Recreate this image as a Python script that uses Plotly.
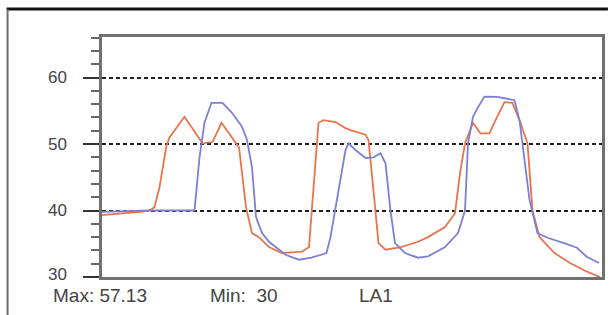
import plotly.graph_objects as go

# Orange series (time index 0..100, level)
orange_x = [0, 3.6, 7.6, 9.5, 10.5, 11.5, 12.9, 13.5, 16.5, 20.1, 22.1, 23.9, 26, 27.4, 28.8, 30, 31.4,
            33.4, 36, 40, 41.4, 42.3, 43.3, 44.3, 46.7, 48.7, 49.7, 52.7, 53.3, 54.3, 55.3, 56.7, 59.8,
            63.2, 65.2, 68.6, 70.6, 71.6, 72.6, 74.2, 75.7, 77.5, 78.7, 80.5, 82.1, 83.7, 85.1, 86.1,
            87.5, 90.5, 93.6, 97, 99.6]
orange_y = [39.3, 39.5, 39.8, 40.0, 40.5, 43.5, 49.8, 51.0, 54.1, 50.1, 50.3, 53.2, 51.0, 49.5, 40.5, 36.6, 36.0,
            34.5, 33.6, 33.8, 34.5, 43.0, 53.2, 53.6, 53.3, 52.4, 52.1, 51.4, 50.6, 43.0, 35.1, 34.1, 34.5,
            35.3, 36.0, 37.5, 39.6, 45.6, 50.1, 53.2, 51.6, 51.6, 53.6, 56.3, 56.2, 53.2, 50.1, 40.0,
            36.0, 33.6, 32.1, 30.8, 30.0]

# Blue series
blue_x = [0, 9.5, 18.5, 19.5, 20.5, 21.9, 24.1, 26, 28, 29, 30, 30.8, 32, 33.4, 36.8, 39.4, 41.9, 44.9,
          45.7, 47.3, 48.7, 49.3, 50.7, 52.7, 54.3, 55.7, 56.7, 57.7, 58.6, 60.6, 63.2, 65.2, 68.6, 71.2,
          72.6, 73.2, 74.2, 75.1, 76.5, 79.1, 80.7, 82.5, 83.5, 84.5, 85.5, 87.1, 89.1, 92.4, 95, 97, 99.4]
blue_y = [39.8, 40.0, 40.0, 48.0, 53.2, 56.2, 56.2, 54.7, 52.6, 50.6, 46.5, 39.0, 36.6, 35.3, 33.3, 32.6, 32.9, 33.6,
          36.0, 43.0, 49.1, 50.1, 49.1, 47.9, 48.0, 48.6, 47.1, 40.0, 35.1, 33.6, 32.9, 33.1, 34.5, 36.6,
          40.0, 50.1, 54.1, 55.4, 57.13, 57.1, 56.9, 56.6, 53.6, 48.0, 41.6, 36.6, 35.9, 35.1, 34.4, 33.0, 32.1]

y_ticks = [30, 40, 50, 60]
y_tick_labels = ["30", "40", "50", "60"]
footer_texts = ["Max: 57.13", "Min:  30", "LA1"]

fig = go.Figure()
fig.add_trace(go.Scatter(x=orange_x, y=orange_y, mode="lines",
                         line=dict(color="#E8744E", width=1.8), showlegend=False))
fig.add_trace(go.Scatter(x=blue_x, y=blue_y, mode="lines",
                         line=dict(color="#7C80D2", width=1.8), showlegend=False))

L, R, T, B = 102, 6, 37, 38
W, H = 611, 315
pw, ph = W - L - R, H - T - B

def px2x(px):
    return (px - L) / pw

def py2y(py):
    return ((H - B) - py) / ph

fig.update_layout(
    width=W, height=H,
    margin=dict(l=L, r=R, t=T, b=B, pad=0),
    paper_bgcolor="white", plot_bgcolor="white",
    font=dict(family="Liberation Sans, Arial, sans-serif", color="#444444"),
    xaxis=dict(range=[0, 100], showgrid=False, zeroline=False, showticklabels=False, ticks="",
               showline=True, linecolor="#707070", linewidth=2.5, mirror=True),
    yaxis=dict(range=[30, 66.1], tickvals=y_ticks, showticklabels=False,
               showgrid=True, gridcolor="#1e1e1e", gridwidth=1.6, griddash="4px,3px",
               zeroline=False, ticks="outside", ticklen=16, tickwidth=1.6, tickcolor="#333333",
               minor=dict(dtick=2, tick0=30, ticks="outside", ticklen=8, tickwidth=2,
                          tickcolor="#666666", showgrid=False),
               showline=True, linecolor="#707070", linewidth=2.5, mirror=True),
)

# y tick labels (placed left of the long ticks)
for v, lab in zip(y_ticks, y_tick_labels):
    fig.add_annotation(text=lab, xref="paper", yref="y", x=px2x(69), y=v,
                       xanchor="right", yanchor="middle", showarrow=False,
                       yshift=3 if v == y_ticks[0] else 0,
                       font=dict(size=17, color="#444444"))

# footer texts
footer_px = [51, 209, 359]
for txt, px in zip(footer_texts, footer_px):
    fig.add_annotation(text=txt, xref="paper", yref="paper",
                       x=px2x(px), y=py2y(295),
                       xanchor="left", yanchor="middle", showarrow=False,
                       font=dict(size=19, color="#444444"))

# outer frame (top black line, left grey line)
fig.add_shape(type="line", xref="paper", yref="paper",
              x0=px2x(6), x1=px2x(611), y0=py2y(9), y1=py2y(9),
              line=dict(color="#111111", width=3))
fig.add_shape(type="line", xref="paper", yref="paper",
              x0=px2x(7), x1=px2x(7), y0=py2y(9), y1=py2y(315),
              line=dict(color="#6a6a6a", width=2))

fig.write_html("out.html", config={"displayModeBar": False},
               post_script="document.body.style.margin='0';")
